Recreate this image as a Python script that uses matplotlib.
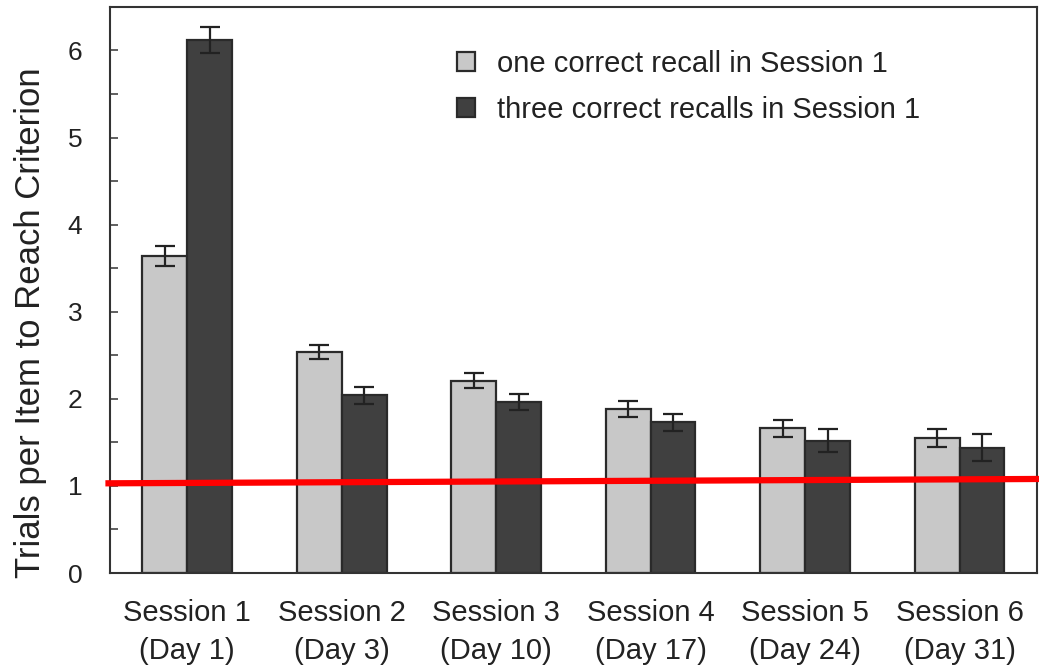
import numpy as np
import matplotlib.pyplot as plt
from matplotlib.ticker import MultipleLocator

plt.rcParams["font.family"] = ["Liberation Sans", "DejaVu Sans"]

sessions = ["Session 1\n(Day 1)", "Session 2\n(Day 3)", "Session 3\n(Day 10)",
            "Session 4\n(Day 17)", "Session 5\n(Day 24)", "Session 6\n(Day 31)"]
one_recall = [3.64, 2.54, 2.21, 1.88, 1.66, 1.55]
one_recall_err = [0.12, 0.08, 0.09, 0.09, 0.10, 0.10]
three_recalls = [6.12, 2.04, 1.96, 1.73, 1.52, 1.44]
three_recalls_err = [0.15, 0.10, 0.09, 0.10, 0.13, 0.155]
labels = ["one correct recall in Session 1", "three correct recalls in Session 1"]

# red reference line drawn over the chart (slightly tilted in the original)
ref_x = [-0.53, 5.52]
ref_y = [1.03, 1.08]

fig = plt.figure(figsize=(10.39, 6.66), dpi=100)
ax = fig.add_axes([0.1059, 0.1396, 0.892, 0.85])

x = np.arange(len(sessions))
w = 0.29
err_kw = dict(ecolor="#222222", elinewidth=1.6, capsize=7.5, capthick=1.6)
ax.bar(x - w / 2, one_recall, w, yerr=one_recall_err, color="#c8c8c8",
       edgecolor="#2a2a2a", linewidth=1.6, label=labels[0], error_kw=err_kw, zorder=2)
ax.bar(x + w / 2, three_recalls, w, yerr=three_recalls_err, color="#404040",
       edgecolor="#2a2a2a", linewidth=1.6, label=labels[1], error_kw=err_kw, zorder=2)

ax.plot(ref_x, ref_y, color="#ff0000", linewidth=4.5, clip_on=False, zorder=5,
        solid_capstyle="butt")

ax.set_xlim(-0.5, 5.5)
ax.set_ylim(0, 6.5)
ax.set_xticks(x)
ax.set_xticklabels(sessions, fontsize=21, linespacing=1.42)
ax.tick_params(axis="x", length=0, pad=19, colors="#222222")
ax.yaxis.set_major_locator(MultipleLocator(1))
ax.yaxis.set_minor_locator(MultipleLocator(0.5))
ax.tick_params(axis="y", which="both", direction="in", length=6, width=1.2,
               color="#444444", labelsize=19, pad=20, labelcolor="#222222")
ax.set_ylabel("Trials per Item to Reach Criterion", fontsize=25, color="#222222",
              va="center")
ax.yaxis.set_label_coords(-0.0863, 0.442)
for s in ax.spines.values():
    s.set_color("#333333")
    s.set_linewidth(1.5)

ax.legend(loc="upper left", bbox_to_anchor=(0.359, 0.95), frameon=False,
          fontsize=21, handlelength=0.6, handleheight=0.6, handletextpad=0.75,
          labelspacing=0.62, borderpad=0, labelcolor="#222222")

fig.savefig("out.png", dpi=100)
